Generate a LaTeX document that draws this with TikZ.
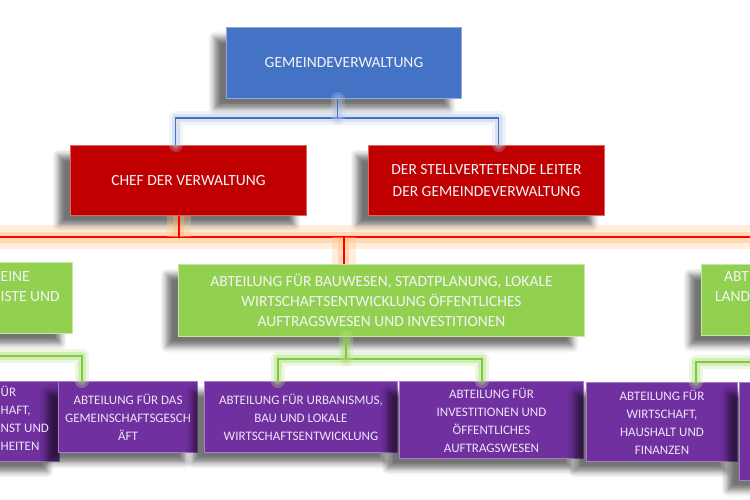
\documentclass[tikz,border=0pt]{standalone}
\usepackage{fontspec}
\setmainfont{Carlito}
\usetikzlibrary{shadows.blur,calc}
\definecolor{cblue}{HTML}{4472C4}
\definecolor{cblueL}{HTML}{8FAADC}
\definecolor{cred}{HTML}{C00000}
\definecolor{credL}{HTML}{E06666}
\definecolor{cgreen}{HTML}{92D050}
\definecolor{cgreenL}{HTML}{C5E8A4}
\definecolor{cpurple}{HTML}{7030A0}
\definecolor{cpurpleL}{HTML}{A77CC8}
\definecolor{tlight}{HTML}{F4F4F8}
\definecolor{tpurple}{HTML}{EDE4F5}
\definecolor{lgreen}{HTML}{7CCB3A}
\begin{document}
\begin{tikzpicture}[x=1pt,y=-1pt,
  box/.style={rectangle, inner sep=0pt, anchor=north west, align=center, line width=1pt,
    blur shadow={shadow xshift=-12pt, shadow yshift=-10pt, shadow blur radius=6pt, shadow opacity=55}},
  bigfont/.style={font=\fontsize{15.5}{20}\selectfont},
  redfont/.style={font=\fontsize{15.5}{22}\selectfont},
  smallfont/.style={font=\fontsize{13}{18}\selectfont},
  bluebox/.style={box, fill=cblue, draw=cblueL, text=tlight, bigfont},
  redbox/.style={box, fill=cred, draw=credL, text=tlight, redfont},
  greenbox/.style={box, fill=cgreen, draw=cgreenL, text=tlight, bigfont},
  purplebox/.style={box, fill=cpurple, draw=cpurpleL, text=tpurple, smallfont},
  frag/.style={inner sep=0pt},
  bglow/.style={draw=cblue, line width=1.8pt,
    preaction={draw=cblue!35, line width=14pt, opacity=0.25, line join=round, line cap=round},
    preaction={draw=cblue!45, line width=8pt, opacity=0.35, line join=round, line cap=round}},
  rglow/.style={draw=red, line width=2pt,
    preaction={draw=orange!45, line width=24pt, opacity=0.3, line join=round},
    preaction={draw=orange!60, line width=11pt, opacity=0.35, line join=round}},
  gglow/.style={draw=lgreen, line width=2pt,
    preaction={draw=cgreen!60, line width=14pt, opacity=0.3, line join=round, line cap=round},
    preaction={draw=cgreen!80, line width=8pt, opacity=0.35, line join=round, line cap=round}}
]
\useasboundingbox (0,0) rectangle (750,500);
\clip (0,0) rectangle (750,500);

% top level
\node[bluebox, minimum width=235, minimum height=71] (gv) at (226,27) {GEMEINDEVERWALTUNG};
\node[redbox, minimum width=236, minimum height=70] (chef) at (70,145) {CHEF DER VERWALTUNG};
\node[redbox, minimum width=236, minimum height=70] (stv) at (368,145) {DER STELLVERTETENDE LEITER\\DER GEMEINDEVERWALTUNG};

% green level
\node[greenbox, minimum width=272, minimum height=71] (gleft) at (-200,262) {};
\node[greenbox, minimum width=406, minimum height=72] (gmid) at (178,264) {ABTEILUNG FÜR BAUWESEN, STADTPLANUNG, LOKALE\\WIRTSCHAFTSENTWICKLUNG ÖFFENTLICHES\\AUFTRAGSWESEN UND INVESTITIONEN};
\node[greenbox, minimum width=250, minimum height=71] (gright) at (701,264) {};
\node[frag, bigfont, text=tlight, anchor=mid west] (gl1) at (0.5,279) {EINE};
\node[frag, bigfont, text=tlight, anchor=mid west] (gl2) at (0.5,299) {ISTE UND};
\node[frag, bigfont, text=tlight, anchor=mid west] (gr1) at (724,279) {ABT};
\node[frag, bigfont, text=tlight, anchor=mid west] (gr2) at (715,299) {LAND};

% purple level
\node[purplebox, minimum width=209, minimum height=80] (pleft) at (-150,381) {};
\node[purplebox, minimum width=139, minimum height=71] (gem) at (58,381) {ABTEILUNG FÜR DAS\\GEMEINSCHAFTSGESCH\\ÄFT};
\node[purplebox, minimum width=193, minimum height=71] (urb) at (204,381) {ABTEILUNG FÜR URBANISMUS,\\BAU UND LOKALE\\WIRTSCHAFTSENTWICKLUNG};
\node[purplebox, minimum width=184, minimum height=77] (inv) at (399,381) {ABTEILUNG FÜR\\INVESTITIONEN UND\\ÖFFENTLICHES\\AUFTRAGSWESEN};
\node[purplebox, minimum width=151, minimum height=79] (wirt) at (586,382) {ABTEILUNG FÜR\\WIRTSCHAFT,\\HAUSHALT UND\\FINANZEN};
\node[purplebox, minimum width=200, minimum height=98] (pright) at (739,382) {};
\node[frag, smallfont, text=tpurple, anchor=mid west] (pl1) at (0.5,394) {ÜR};
\node[frag, smallfont, text=tpurple, anchor=mid west] (pl2) at (0.5,412) {HAFT,};
\node[frag, smallfont, text=tpurple, anchor=mid west] (pl3) at (0.5,430) {NST UND};
\node[frag, smallfont, text=tpurple, anchor=mid west] (pl4) at (0.5,448) {HEITEN};

% blue connector
\coordinate (bj) at ([xshift=-6.5pt,yshift=-19pt]gv.south);
\draw[bglow] ([xshift=-13pt]chef.north) |- (bj) -| ([xshift=12pt]stv.north);
\draw[bglow] ([xshift=-6.5pt]gv.south) -- (bj);

% red connector
\coordinate (rl) at (-10,237);
\coordinate (rr) at (760,237);
\draw[rglow] (rl) -- (rr);
\draw[rglow] ([xshift=-10pt]chef.south) -- ([xshift=-10pt]chef.south |- rl);
\draw[rglow] ([xshift=-38pt]gmid.north) -- ([xshift=-38pt]gmid.north |- rl);

% green connectors
\coordinate (gj) at ([xshift=-36pt,yshift=-22pt]gmid.south);
\draw[gglow] ([xshift=-23.5pt]urb.north) |- (gj) -| ([xshift=-10pt]inv.north);
\draw[gglow] ([xshift=-36pt]gmid.south) -- (gj);
\coordinate (glj) at (-10,356);
\draw[gglow] (glj) -| ([xshift=-46.5pt]gem.north);
\coordinate (grj) at (760,362);
\draw[gglow] (grj) -| ([xshift=33.5pt]wirt.north);
\end{tikzpicture}
\end{document}
